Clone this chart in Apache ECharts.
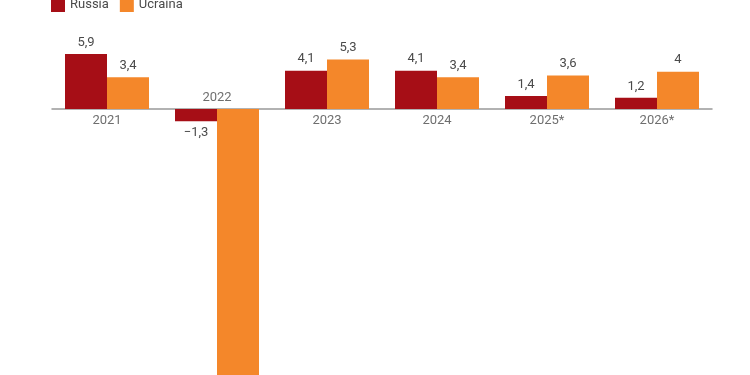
<!DOCTYPE html>
<html>
<head>
<meta charset="utf-8">
<script src="https://cdn.jsdelivr.net/npm/echarts@6/dist/echarts.min.js"></script>
<style>
html, body { margin: 0; padding: 0; background: #fff; }
#chart { width: 750px; height: 375px; }
</style>
</head>
<body>
<div id="chart"></div>
<script>
// dati
var years = ['2021', '2022', '2023', '2024', '2025*', '2026*'];
var russia = [5.9, -1.3, 4.1, 4.1, 1.4, 1.2];
var ucraina = [3.4, -28.8, 5.3, 3.4, 3.6, 4];
var seriesNames = ['Russia', 'Ucraina'];

function fmt(v) {
    var s = String(Math.abs(v)).replace('.', ',');
    return v < 0 ? '\u2212' + s : s;
}

var labelStyle = {
    show: true,
    color: '#4a4a4a',
    fontSize: 13,
    fontFamily: 'Roboto',
    distance: 5,
    formatter: function (p) { return fmt(p.value); }
};

function barData(arr) {
    return arr.map(function (v) {
        return { value: v, label: { position: v < 0 ? 'bottom' : 'top' } };
    });
}

// etichette anno: sotto l'asse, sopra se la barra russa è negativa
var yearLabels = years.map(function (y, i) {
    return { value: 0, label: { position: russia[i] < 0 ? 'top' : 'bottom' } };
});

var chart = echarts.init(document.getElementById('chart'));
chart.setOption({
    animation: false,
    textStyle: { fontFamily: 'Roboto' },
    legend: {
        data: seriesNames,
        left: 46,
        top: -7,
        icon: 'rect',
        itemWidth: 14,
        itemHeight: 14,
        itemGap: 11,
        textStyle: { color: '#4a4a4a', fontSize: 13, fontFamily: 'Roboto' }
    },
    // il grafico originale è tagliato in basso: la barra 2022 esce dal riquadro
    grid: { left: 52, right: 38, top: 53, bottom: 0 },
    xAxis: {
        type: 'category',
        data: years,
        axisLine: { onZero: true, lineStyle: { color: '#999', width: 1.5 } },
        axisTick: { show: false },
        axisLabel: { show: false }
    },
    yAxis: {
        type: 'value',
        min: -28.5,
        max: 6,
        show: false,
        splitLine: { show: false }
    },
    series: [{
        name: 'Russia',
        type: 'bar',
        barWidth: 42,
        barGap: '0%',
        itemStyle: { color: '#a60e16' },
        label: labelStyle,
        data: barData(russia)
    }, {
        name: 'Ucraina',
        type: 'bar',
        barWidth: 42,
        barGap: '0%',
        itemStyle: { color: '#f4872a' },
        label: labelStyle,
        data: barData(ucraina)
    }, {
        name: 'anni',
        type: 'scatter',
        symbolSize: 0,
        silent: true,
        z: 5,
        label: {
            show: true,
            color: '#4a4a4a',
            fontSize: 13,
            fontFamily: 'Roboto',
            distance: 5,
            formatter: function (p) { return p.name; }
        },
        data: yearLabels
    }]
});
</script>
</body>
</html>
